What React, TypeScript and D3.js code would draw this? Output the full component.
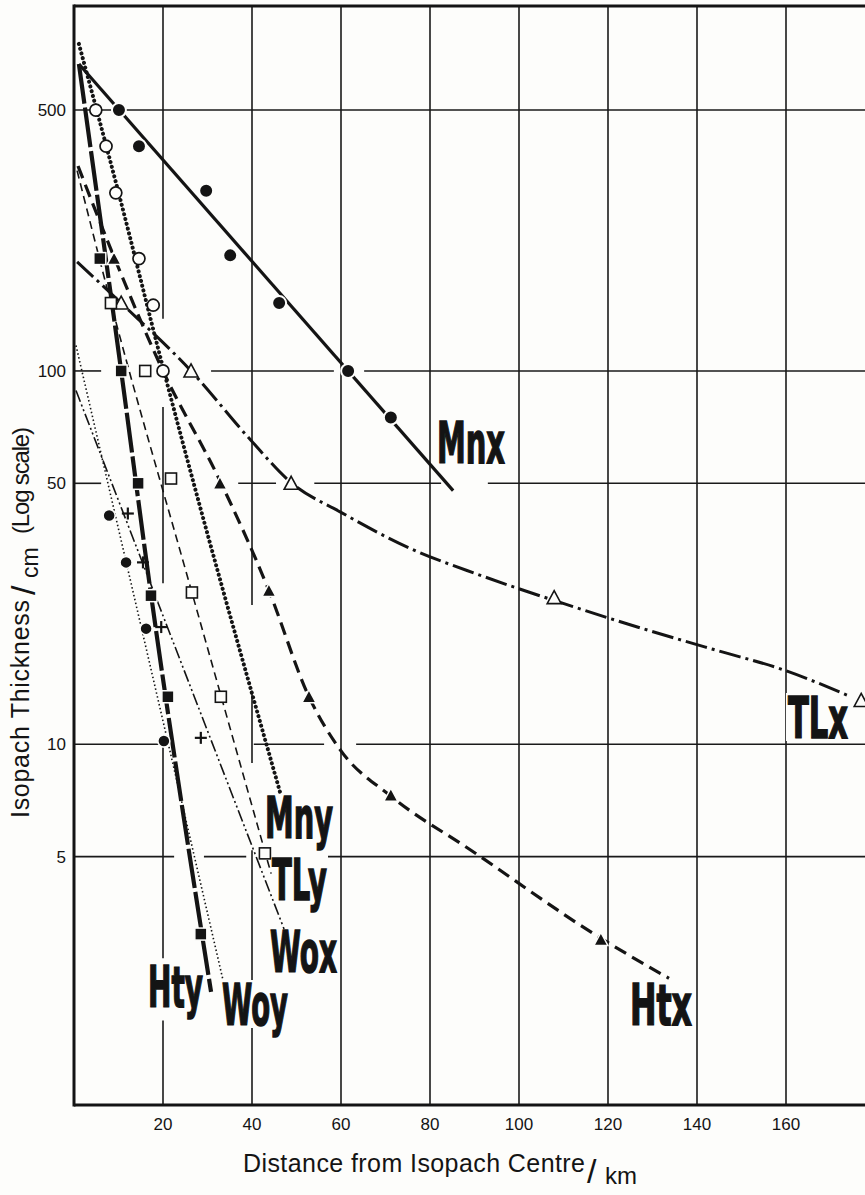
import React from 'react';
import * as d3 from 'd3';

const W = 865;
const H = 1195;

// Axis ticks
const X_TICKS = [20, 40, 60, 80, 100, 120, 140, 160];
const Y_TICKS = [500, 100, 50, 10, 5];

// Gaps in the hand-drawn grid (data units)
const H_GRID_GAPS: Record<number, number[][]> = {
  100: [[6.1, 30.8], [58.4, 65.2]],
  50: [[6.1, 36.9], [45.4, 54], [82.5, 93]],
  10: [[19.6, 40.4], [56.2, 63.4]],
  5: [[22.5, 29.2], [38.7, 46.1]],
};
const V_GRID_GAPS: Record<number, number[][]> = {
  20: [[1.82, 2.67], [9.8, 27], [80, 138]],
  40: [[5.2, 8.9], [13.9, 23.6]],
};

// Series: observed points [km, cm] and the fitted curve drawn through them
const mnxPoints = [[10.1, 500], [14.6, 400], [29.7, 304], [35.1, 204], [46.1, 152], [61.6, 100], [71.2, 75]];
const mnxLine = [[1.1, 664], [85.2, 47.8]];

const mnyPoints = [[4.9, 500], [7.2, 400], [9.4, 300], [14.6, 200], [17.8, 150], [20.0, 100]];
const mnyLine = [[1.1, 752], [9.9, 304], [20.2, 100], [46.5, 7.3]];

const htyPoints = [[5.8, 200], [10.6, 100], [14.4, 50], [17.3, 25], [21.1, 13.4], [28.5, 3.1]];
const htyLine = [[1.1, 664], [10.6, 100], [17.3, 25.2], [30.8, 2.17]];

const htxPoints = [[9.0, 200], [32.8, 50], [43.8, 25.8], [52.8, 13.4], [71.2, 7.3], [118.4, 3.0]];
const htxLine = [[0.9, 354], [9.0, 202], [20.0, 100], [32.8, 50.8], [43.8, 25.8], [52.8, 13.4], [60.0, 9.6], [71.2, 7.26], [89.2, 5.2], [118.4, 3.02], [133.7, 2.36]];

const tlxPoints = [[10.6, 152], [26.3, 100], [48.8, 50], [107.9, 24.7], [176.9, 13.1]];
const tlxLine = [[0.7, 196], [10.6, 152], [26.3, 100], [39.8, 65.1], [48.8, 50.2], [60.0, 41.8], [75.7, 33.4], [91.5, 28.3], [110.1, 23.8], [129.0, 20.2], [144.7, 17.8], [158.2, 16.0], [174.6, 13.4]];

const tlyPoints = [[8.3, 152], [16.0, 100], [21.8, 51.5], [26.5, 25.5], [33.0, 13.4], [42.9, 5.1]];
const tlyLine = [[0.7, 344], [8.3, 152], [26.5, 25.5], [44.3, 4.5]];

const woxPoints = [[12.1, 41.5], [15.5, 30.7], [19.6, 20.6], [28.5, 10.4]];
const woxLine = [[0.45, 88.6], [47.2, 3.2]];

const woyPoints = [[7.9, 41], [11.7, 30.7], [16.2, 20.4], [20.2, 10.2]];
const woyLine = [[0.45, 117], [33.5, 2.33]];

const SERIES = [
  { name: 'TLx', line: tlxLine, pts: tlxPoints, w: 3, dash: '22,5,3,5', marker: 'triOpen' },
  { name: 'Htx', line: htxLine, pts: htxPoints, w: 3.2, dash: '13,7', marker: 'triFill' },
  { name: 'TLy', line: tlyLine, pts: tlyPoints, w: 1.6, dash: '8,5', marker: 'sqOpen' },
  { name: 'Wox', line: woxLine, pts: woxPoints, w: 1.6, dash: '12,3,2,3,2,3', marker: 'plus' },
  { name: 'Woy', line: woyLine, pts: woyPoints, w: 1.6, dash: '1.5,2.5', marker: 'dotSmall' },
  { name: 'Mny', line: mnyLine, pts: mnyPoints, w: 4, dash: '0.1,4.8', marker: 'circOpen', round: true },
  { name: 'Hty', line: htyLine, pts: htyPoints, w: 4.2, dash: '40,4', marker: 'sqFill' },
  { name: 'Mnx', line: mnxLine, pts: mnxPoints, w: 3.2, dash: null, marker: 'dot' },
];

// Curve labels: left x, baseline y, target width (px)
const LABELS = [
  { t: 'Mnx', x: 437, y: 463, w: 68 },
  { t: 'TLx', x: 788, y: 738, w: 60 },
  { t: 'Mny', x: 265, y: 838, w: 68 },
  { t: 'TLy', x: 272, y: 900, w: 55 },
  { t: 'Wox', x: 270, y: 972, w: 67 },
  { t: 'Hty', x: 148, y: 1007, w: 55 },
  { t: 'Woy', x: 222, y: 1025, w: 66 },
  { t: 'Htx', x: 630, y: 1025, w: 62 },
];
const LABEL_SIZE = 41;
const LABEL_STRETCH = 1.39;
const CAP = 42;

const LABEL_FONT = "'Liberation Sans Narrow', 'DejaVu Sans Condensed', 'Arial Narrow', sans-serif";
const TEXT_FONT = "'Liberation Sans', Arial, Helvetica, sans-serif";
const INK = '#141414';
const PAPER = '#fdfdfb';

function complement(gaps: number[][] | undefined, lo: number, hi: number): number[][] {
  const out: number[][] = [];
  let cur = lo;
  (gaps || []).slice().sort((a, b) => a[0] - b[0]).forEach(([a, b]) => {
    if (a > cur) out.push([cur, a]);
    cur = Math.max(cur, b);
  });
  if (cur < hi) out.push([cur, hi]);
  return out;
}

function Marker({ kind, cx, cy }: { kind: string; cx: number; cy: number }) {
  switch (kind) {
    case 'dot':
      return <circle cx={cx} cy={cy} r={7} fill={INK} stroke={PAPER} strokeWidth={2} />;
    case 'dotSmall':
      return <circle cx={cx} cy={cy} r={6} fill={INK} stroke={PAPER} strokeWidth={1.5} />;
    case 'circOpen':
      return <circle cx={cx} cy={cy} r={6} fill={PAPER} stroke={INK} strokeWidth={1.7} />;
    case 'sqFill':
      return <rect x={cx - 6} y={cy - 6} width={12} height={12} fill={INK} stroke={PAPER} strokeWidth={1.5} />;
    case 'sqOpen':
      return <rect x={cx - 5.5} y={cy - 5.5} width={11} height={11} fill={PAPER} stroke={INK} strokeWidth={1.6} />;
    case 'triFill':
      return <path d={`M${cx},${cy - 7}L${cx + 7},${cy + 6}L${cx - 7},${cy + 6}Z`} fill={INK} stroke={PAPER} strokeWidth={1.5} />;
    case 'triOpen':
      return <path d={`M${cx},${cy - 7}L${cx + 7},${cy + 6}L${cx - 7},${cy + 6}Z`} fill={PAPER} stroke={INK} strokeWidth={1.6} />;
    case 'plus':
      return (
        <g stroke={INK} strokeWidth={2.2}>
          <line x1={cx - 6} y1={cy} x2={cx + 6} y2={cy} />
          <line x1={cx} y1={cy - 6} x2={cx} y2={cy + 6} />
        </g>
      );
    default:
      return null;
  }
}

export default function App() {
  const x = d3.scaleLinear().domain([0, 180]).range([74, 875]);
  const y = d3.scaleLog().domain([1.08, 950]).range([1105, 6]);
  const line = d3
    .line<number[]>()
    .x((d) => x(d[0]))
    .y((d) => y(d[1]))
    .curve(d3.curveMonotoneX);

  const [x0, x1] = x.domain();
  const [y0, y1] = y.domain();

  return (
    <svg
      width={W}
      height={H}
      viewBox={`0 0 ${W} ${H}`}
      style={{ position: 'absolute', left: 0, top: 0, display: 'block', background: PAPER }}
    >
      <rect x={0} y={0} width={W} height={H} fill={PAPER} />
      {/* grid */}
      <g stroke="#1a1a1a" strokeWidth={1.6}>
        {Y_TICKS.map((v) =>
          complement(H_GRID_GAPS[v], x0, x1).map(([a, b], i) => (
            <line key={`h${v}-${i}`} x1={x(a)} x2={x(b)} y1={y(v)} y2={y(v)} />
          ))
        )}
        {X_TICKS.map((v) =>
          complement(V_GRID_GAPS[v], y0, y1).map(([a, b], i) => (
            <line key={`v${v}-${i}`} x1={x(v)} x2={x(v)} y1={y(a)} y2={y(b)} />
          ))
        )}
      </g>
      {/* label knockouts: break the grid behind the curve names */}
      <g fill={PAPER}>
        {LABELS.map((l) => (
          <rect key={`k${l.t}`} x={l.x - 2} y={l.y - CAP - 3} width={l.w + 3} height={CAP + 6} />
        ))}
      </g>
      {/* frame */}
      <g stroke={INK} strokeWidth={3} fill="none">
        <line x1={x(0)} x2={x(0)} y1={y(y1) - 1.5} y2={y(y0) + 1.5} />
        <line x1={x(0)} x2={W} y1={y(y1)} y2={y(y1)} />
        <line x1={x(0)} x2={W} y1={y(y0)} y2={y(y0)} />
      </g>
      {/* series lines */}
      <g fill="none">
        {SERIES.map((s) => (
          <path
            key={`l${s.name}`}
            d={line(s.line) || ''}
            stroke={INK}
            strokeWidth={s.w}
            strokeDasharray={s.dash || undefined}
            strokeLinecap={s.round ? 'round' : 'butt'}
          />
        ))}
      </g>
      {/* markers */}
      <g>
        {SERIES.map((s) =>
          s.pts.map((p, i) => <Marker key={`m${s.name}${i}`} kind={s.marker} cx={x(p[0])} cy={y(p[1])} />)
        )}
      </g>
      {/* series labels */}
      <g fontFamily={LABEL_FONT} fontWeight={700} fontSize={LABEL_SIZE} fill={INK} stroke={INK} strokeWidth={1.1}>
        {LABELS.map((l) => (
          <g key={`t${l.t}`} transform={`translate(${l.x},${l.y}) scale(1,${LABEL_STRETCH})`}>
            <text x={0} y={0} textLength={l.w} lengthAdjust="spacingAndGlyphs">
              {l.t}
            </text>
          </g>
        ))}
      </g>
      {/* y tick labels */}
      <g fontFamily={TEXT_FONT} fontSize={17} fill={INK} textAnchor="end">
        {Y_TICKS.map((v) => (
          <text key={`yt${v}`} x={66} y={y(v)} dy="0.35em">
            {v}
          </text>
        ))}
      </g>
      {/* x tick labels */}
      <g fontFamily={TEXT_FONT} fontSize={17} fill={INK} textAnchor="middle">
        {X_TICKS.map((v) => (
          <text key={`xt${v}`} x={x(v)} y={1130}>
            {v}
          </text>
        ))}
      </g>
      {/* axis titles */}
      <g fontFamily={TEXT_FONT} fill={INK}>
        <text x={243} y={1172} fontSize={25} textLength={342} lengthAdjust="spacing">
          Distance from Isopach Centre
        </text>
        <text x={587} y={1183} fontSize={34}>/</text>
        <text x={605} y={1184} fontSize={24}>km</text>
        <g transform="translate(29,818) rotate(-90)">
          <text x={0} y={0} fontSize={25} textLength={218} lengthAdjust="spacing">
            Isopach Thickness
          </text>
          <text x={223} y={6} fontSize={34}>/</text>
          <text x={240} y={9} fontSize={23}>cm</text>
          <text x={284} y={0} fontSize={24} textLength={107} lengthAdjust="spacing">
            (Log scale)
          </text>
        </g>
      </g>
    </svg>
  );
}
